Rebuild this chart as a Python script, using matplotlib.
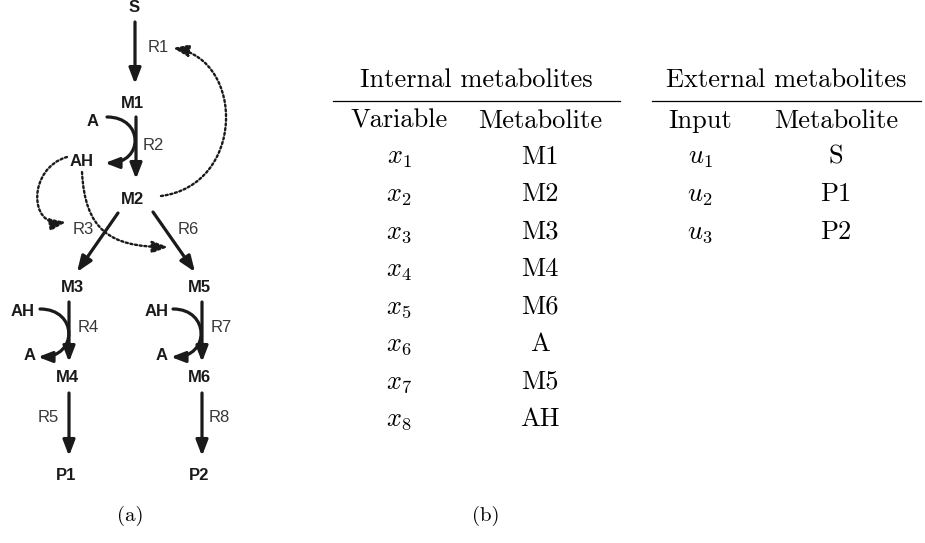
import matplotlib.pyplot as plt
from matplotlib.patches import FancyArrowPatch
from matplotlib.path import Path

plt.rcParams['mathtext.fontset'] = 'cm'

# table contents
internal_vars = ['$x_1$', '$x_2$', '$x_3$', '$x_4$', '$x_5$', '$x_6$', '$x_7$', '$x_8$']
internal_mets = ['M1', 'M2', 'M3', 'M4', 'M6', 'A', 'M5', 'AH']
external_vars = ['$u_1$', '$u_2$', '$u_3$']
external_mets = ['S', 'P1', 'P2']

# pathway nodes (label, x, y) in pixel space
nodes = [('S', 134, 8), ('M1', 132, 103), ('M2', 132, 199),
         ('M3', 72, 288), ('M5', 199, 288), ('M4', 67, 378), ('M6', 199, 378),
         ('P1', 66, 475), ('P2', 199, 475),
         ('A', 93, 121), ('AH', 82, 161),
         ('AH', 23, 312), ('A', 30, 356), ('AH', 157, 312), ('A', 162, 356)]
reactions = [('R1', 158, 47), ('R2', 153, 146), ('R3', 83, 229), ('R6', 188, 229),
             ('R4', 88, 328), ('R7', 221, 328), ('R5', 48, 417), ('R8', 219, 417)]

W, H = 925, 543
fig = plt.figure(figsize=(W / 100, H / 100), dpi=100)
ax = fig.add_axes([0, 0, 1, 1])
ax.set_xlim(0, W)
ax.set_ylim(H, 0)
ax.axis('off')

ink = '#1a1a1a'
for lab, x, y in nodes:
    ax.text(x, y, lab, ha='center', va='center', fontsize=12, fontweight='bold',
            family='Liberation Sans', color=ink)
for lab, x, y in reactions:
    ax.text(x, y, lab, ha='center', va='center', fontsize=12,
            family='Liberation Sans', color='#383838')

head = '-|>,head_length=0.52,head_width=0.2'


def arrow(p0, p1, lw=2.3):
    ax.add_patch(FancyArrowPatch(p0, p1, arrowstyle=head, mutation_scale=18,
                                 lw=lw, color=ink, shrinkA=0, shrinkB=0))


def curve(pts, dotted=False, lw=2.3, ms=18):
    path = Path(pts, [Path.MOVETO, Path.CURVE4, Path.CURVE4, Path.CURVE4])
    ax.add_patch(FancyArrowPatch(path=path, arrowstyle=head, mutation_scale=ms,
                                 lw=lw, color=ink,
                                 linestyle=(0, (0.9, 1.1)) if dotted else '-'))


# main reactions
arrow((135, 22), (135, 84))
arrow((136, 117), (136, 179))
arrow((118, 213), (77, 272))
arrow((153, 212), (195, 272))
arrow((69, 302), (69, 362))
arrow((69, 393), (69, 456))
arrow((202, 302), (202, 362))
arrow((202, 393), (202, 456))

# cofactor curls
curve([(107, 117), (144, 117), (144, 163), (105, 163)], ms=16)
curve([(40, 309), (78, 309), (78, 357), (38, 357)], ms=16)
curve([(173, 309), (210, 309), (210, 357), (171, 357)], ms=16)

# regulation (dotted)
curve([(161, 196), (245, 185), (245, 60), (173, 48)], dotted=True, lw=1.7)
curve([(67, 157), (28, 168), (28, 228), (66, 222)], dotted=True, lw=1.7)
curve([(82, 172), (85, 230), (110, 247), (168, 247)], dotted=True, lw=1.7)

# tables
tfs = 19
cm = dict(family='cmr10', fontsize=tfs, color='black', va='baseline', ha='center')
math = dict(fontsize=tfs, color='black', va='baseline', ha='center')
y_head, y_sub, y_row0, dy = 87, 128, 164, 37.4

ax.text(476, y_head, 'Internal metabolites', **cm)
ax.plot([333, 620], [101, 101], color='black', lw=0.9)
ax.text(399, y_sub, 'Variable', **cm)
ax.text(540, y_sub, 'Metabolite', **cm)
for i, (v, m) in enumerate(zip(internal_vars, internal_mets)):
    y = y_row0 + i * dy
    ax.text(399, y, v, **math)
    ax.text(540, y, m, **cm)

ax.text(786, y_head, 'External metabolites', **cm)
ax.plot([652, 921], [101, 101], color='black', lw=0.9)
ax.text(700, y_sub, 'Input', **cm)
ax.text(836, y_sub, 'Metabolite', **cm)
for i, (v, m) in enumerate(zip(external_vars, external_mets)):
    y = y_row0 + i * dy
    ax.text(700, y, v, **math)
    ax.text(836, y, m, **cm)

ax.text(130, 521, '(a)', **dict(cm, fontsize=15))
ax.text(486, 521, '(b)', **dict(cm, fontsize=15))

fig.savefig('out.png', dpi=100)
